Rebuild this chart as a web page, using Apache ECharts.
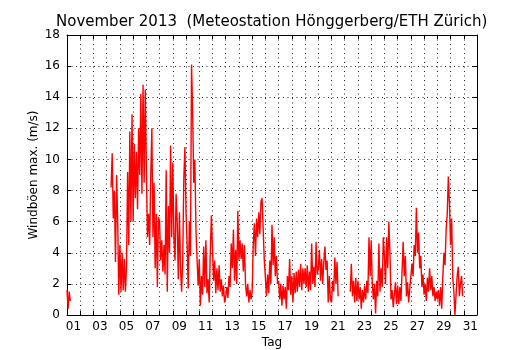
<!DOCTYPE html>
<html><head><meta charset="utf-8">
<script src="https://cdn.jsdelivr.net/npm/echarts@6/dist/echarts.min.js"></script>
<style>html,body{margin:0;padding:0;background:#fff}#c{width:530px;height:350px}</style>
</head><body><div id="c"></div>
<script>
const titleText = 'November 2013  (Meteostation Hönggerberg/ETH Zürich)';
const xName = 'Tag';
const yName = 'Windböen max. (m/s)';
// one value every 2 hours, starting 1 Nov 00:00 (12 values per day); null = no data
const stepDays = 2 / 24;
const dayLabels = ['01','03','05','07','09','11','13','15','17','19','21','23','25','27','29','31'];
const gustValues = [
  /* 01 */ 1.6, 0.4, 1.5, 0.9, null, null, null, null, null, null, null, null,
  /* 02 */ null, null, null, null, null, null, null, null, null, null, null, null,
  /* 03 */ null, null, null, null, null, null, null, null, null, null, null, null,
  /* 04 */ null, null, null, null, 8.2, 10.4, 6.2, 8.0, 3.4, 9.0, 6.0, 1.3,
  /* 05 */ 4.5, 1.5, 4.0, 1.6, 3.6, 1.5, 3.2, 9.2, 4.5, 11.8, 6.0, 12.9,
  /* 06 */ 6.0, 11.0, 7.5, 10.5, 6.8, 12.0, 9.0, 14.2, 7.8, 14.8, 8.5, 14.5,
  /* 07 */ 9.5, 5.0, 6.5, 4.5, 9.0, 12.0, 5.0, 8.5, 3.0, 6.5, 1.8, 6.3,
  /* 08 */ 6.0, 3.5, 4.8, 2.8, 4.5, 2.6, 9.3, 1.5, 7.0, 4.0, 10.9, 5.0,
  /* 09 */ 9.8, 5.0, 3.5, 7.8, 6.0, 2.3, 6.6, 3.0, 1.5, 3.5, 8.8, 10.8,
  /* 10 */ 6.6, 4.5, 1.7, 6.0, 3.8, 16.1, 13.0, 8.5, 10.0, 5.5, 3.6, 1.9,
  /* 11 */ 3.6, 0.6, 2.5, 1.3, 4.4, 1.8, 4.8, 1.4, 2.3, 0.8, 4.0, 6.4,
  /* 12 */ 6.3, 2.2, 3.5, 1.4, 3.0, 1.6, 3.2, 1.5, 2.3, 1.2, 1.9, 0.8,
  /* 13 */ 1.2, 1.8, 1.1, 2.5, 1.8, 4.6, 3.0, 5.5, 2.2, 4.2, 2.0, 6.7,
  /* 14 */ 3.5, 4.8, 3.6, 4.6, 2.8, 4.5, 2.0, 1.2, 2.0, 0.8, 1.6, 1.0,
  /* 15 */ 1.5, 4.5, 5.9, 3.8, 6.2, 5.0, 6.6, 5.2, 7.3, 7.5, 5.5, 3.5,
  /* 16 */ 2.4, 1.2, 2.6, 1.4, 3.5, 2.0, 5.8, 3.2, 5.0, 2.5, 3.8, 2.0,
  /* 17 */ 2.2, 1.0, 2.0, 0.6, 1.9, 1.0, 1.8, 0.4, 2.5, 1.6, 3.6, 1.3,
  /* 18 */ 2.5, 0.8, 2.7, 1.4, 2.8, 1.5, 2.9, 1.8, 3.3, 1.6, 3.0, 2.0,
  /* 19 */ 3.0, 1.8, 3.2, 1.5, 2.8, 1.6, 4.6, 2.0, 3.1, 1.8, 4.7, 2.6,
  /* 20 */ 3.0, 4.2, 2.2, 3.6, 2.0, 3.4, 4.4, 2.9, 3.5, 0.8, 2.5, 1.0,
  /* 21 */ 0.8, 2.2, 1.5, 3.7, 2.0, 3.4, 1.2, null, null, null, null, null,
  /* 22 */ null, null, null, null, null, 1.5, 3.3, 1.2, 2.2, 0.8, 2.4, 0.9,
  /* 23 */ 2.2, 1.0, 1.8, 0.4, 1.6, 0.8, 1.9, 1.0, 2.2, 1.4, 5.0, 2.5,
  /* 24 */ 4.8, 2.0, 1.0, 2.0, 0.1, 2.2, 1.2, 4.6, 1.5, 3.0, 1.8, 5.0,
  /* 25 */ 3.8, 2.0, 5.0, 3.0, 6.0, 4.0, 1.0, 1.6, 0.5, 1.3, 2.1, 0.7,
  /* 26 */ 1.9, 0.7, 1.8, 0.9, 2.8, 4.7, 2.5, 3.8, 1.2, 2.1, 0.8, 1.7,
  /* 27 */ 1.8, 3.3, 2.5, 4.5, 3.8, 6.9, 4.0, 5.3, 3.0, 3.8, 1.8, 2.6,
  /* 28 */ 1.3, 2.0, 0.9, 2.4, 1.5, 3.0, 1.6, 2.5, 1.2, 1.8, 0.9, 1.5,
  /* 29 */ 1.0, 1.6, 0.6, 1.8, 0.4, 2.5, 4.0, 3.2, 5.5, 6.5, 8.9, 7.2,
  /* 30 */ 4.5, 6.2, 2.4, 1.5, 0.0, 1.3, 2.5, 3.1, 1.2, 2.0, 2.5, 1.2
];

const seriesData = gustValues.map((v, i) => [i * stepDays, v === null ? '-' : v]);

const FONT = 'DejaVu Sans';
const gridLine = { show: true, lineStyle: { color: '#222', width: 1, type: [1, 3.5] } };
const frameLine = { show: true, onZero: false, lineStyle: { color: '#000', width: 1 } };
const tickIn = { show: true, inside: true, length: 4, lineStyle: { color: '#000', width: 1 } };

const chart = echarts.init(document.getElementById('c'), null, { renderer: 'canvas' });
chart.setOption({
  animation: false,
  backgroundColor: '#fff',
  title: {
    text: titleText,
    left: 56,
    top: 15,
    padding: 0,
    textStyle: { fontFamily: FONT, fontSize: 15, fontWeight: 'normal', color: '#000' }
  },
  grid: { left: 67, right: 53, top: 35, bottom: 35, outerBoundsMode: 'none', containLabel: false },
  xAxis: [{
    type: 'value', min: 0, max: 31, interval: 1, position: 'bottom',
    axisLine: frameLine, axisTick: tickIn, splitLine: gridLine,
    axisLabel: {
      fontFamily: FONT, fontSize: 12, color: '#000', margin: 6,
      padding: [0, 0, 0, 13],
      formatter: v => (v % 2 === 0 && v <= 30) ? dayLabels[v / 2] : ''
    },
    name: xName, nameLocation: 'middle', nameGap: 22, nameMoveOverlap: false,
    nameTextStyle: { fontFamily: FONT, fontSize: 12, color: '#000' }
  }, {
    type: 'value', min: 0, max: 31, interval: 1, position: 'top',
    axisLine: frameLine, axisTick: tickIn, splitLine: { show: false }, axisLabel: { show: false }
  }],
  yAxis: [{
    type: 'value', min: 0, max: 18, interval: 2, position: 'left',
    axisLine: frameLine, axisTick: tickIn, splitLine: gridLine,
    axisLabel: { fontFamily: FONT, fontSize: 12, color: '#000', margin: 7 },
    name: yName, nameLocation: 'middle', nameGap: 27.5, nameRotate: 90, nameMoveOverlap: false,
    nameTextStyle: { fontFamily: FONT, fontSize: 12, color: '#000' }
  }, {
    type: 'value', min: 0, max: 18, interval: 2, position: 'right',
    axisLine: frameLine, axisTick: tickIn, splitLine: { show: false }, axisLabel: { show: false }
  }],
  series: [{
    type: 'line', xAxisIndex: 0, yAxisIndex: 0,
    data: seriesData, showSymbol: false, symbol: 'none',
    connectNulls: false, clip: true,
    lineStyle: { color: '#ff0000', width: 1.4 },
    silent: true
  }]
});
</script>
</body></html>
